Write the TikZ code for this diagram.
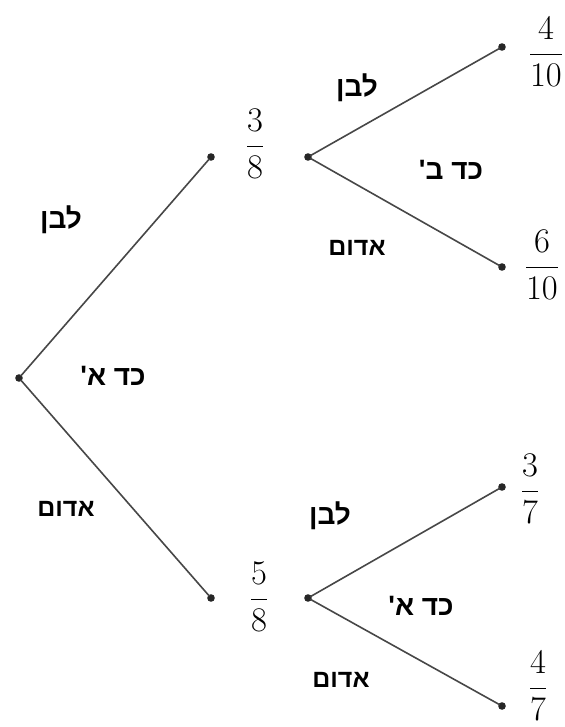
\documentclass[tikz,border=0pt]{standalone}
\usepackage{amsmath}
\usepackage{fontspec}
\newfontfamily\hebfont[Script=Hebrew]{Liberation Sans}
\TeXXeTstate=1

\begin{document}
\begin{tikzpicture}[x=0.5pt, y=-0.5pt, line width=0.8pt,
    dot/.style={circle, fill=black!85, inner sep=0pt, minimum size=3.8pt},
    br/.style={draw=black!72, shorten <=-1pt, shorten >=-1pt},
    lbl/.style={inner sep=0pt, font=\hebfont\bfseries\fontsize{14}{17}\selectfont},
    red/.style={inner sep=0pt, font=\hebfont\bfseries\fontsize{12.5}{15}\selectfont},
    frc/.style={inner sep=0pt, font=\fontsize{16.5}{19}\selectfont}]
  \useasboundingbox (0, 0) rectangle (564, 727);
  % dots
  \node[dot] (R)  at (19, 378)  {};
  \node[dot] (A)  at (211, 157) {};
  \node[dot] (B)  at (211, 598) {};
  \node[dot] (A2) at (308, 157) {};
  \node[dot] (B2) at (308, 598) {};
  \node[dot] (AA) at (502, 47)  {};
  \node[dot] (AB) at (502, 267) {};
  \node[dot] (BA) at (502, 487) {};
  \node[dot] (BB) at (502, 706) {};
  % branches
  \draw[br] (R) -- (A);
  \draw[br] (R) -- (B);
  \draw[br] (A2) -- (AA);
  \draw[br] (A2) -- (AB);
  \draw[br] (B2) -- (BA);
  \draw[br] (B2) -- (BB);
  % probabilities
  \node[frc] (pA)  at (255, 144) {$\dfrac{3}{8}$};
  \node[frc] (pB)  at (259, 597) {$\dfrac{5}{8}$};
  \node[frc] (pAA) at (546, 52)  {$\dfrac{4}{10}$};
  \node[frc] (pAB) at (542, 265) {$\dfrac{6}{10}$};
  \node[frc] (pBA) at (530, 489) {$\dfrac{3}{7}$};
  \node[frc] (pBB) at (538, 686) {$\dfrac{4}{7}$};
  % labels
  \node[lbl] (w1) at (61, 220)  {\beginR לבן\endR};
  \node[lbl] (j1) at (113, 376) {\beginR כד א'\endR};
  \node[red] (r1) at (66, 509)  {\beginR אדום\endR};
  \node[lbl] (w2) at (357, 88)  {\beginR לבן\endR};
  \node[lbl] (j2) at (451, 170) {\beginR כד ב'\endR};
  \node[red] (r2) at (357, 248) {\beginR אדום\endR};
  \node[lbl] (w3) at (330, 516) {\beginR לבן\endR};
  \node[lbl] (j3) at (421, 606) {\beginR כד א'\endR};
  \node[red] (r3) at (341, 680) {\beginR אדום\endR};
\end{tikzpicture}
\end{document}
